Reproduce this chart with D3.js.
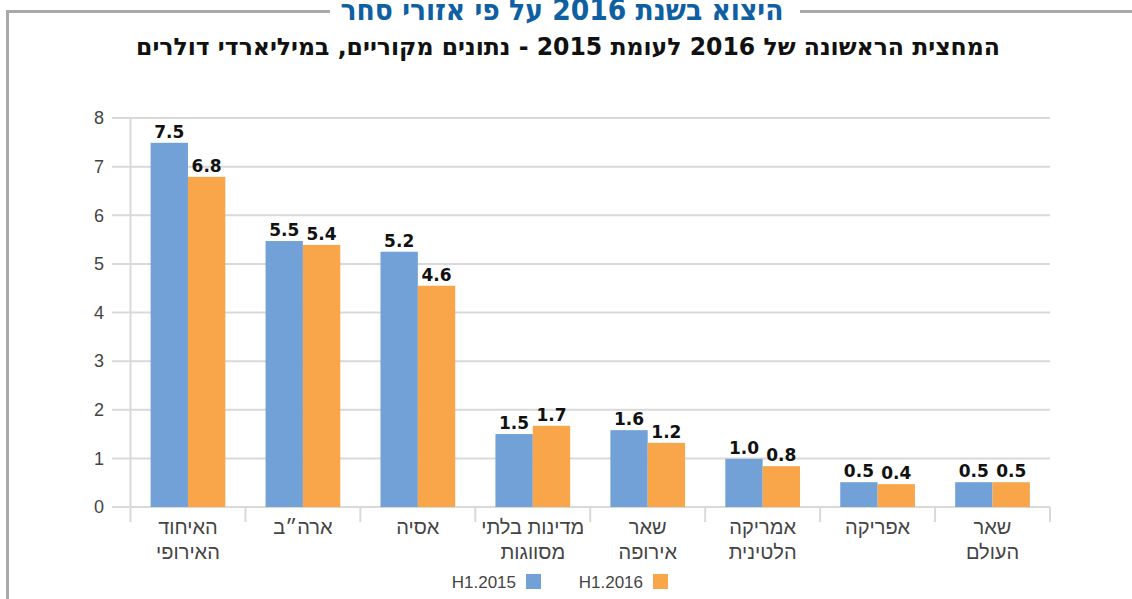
<!DOCTYPE html>
<html>
<head>
<meta charset="utf-8">
<script src="https://cdn.jsdelivr.net/npm/d3@7"></script>
<style>
  body { margin: 0; background: #fff; }
  svg { display: block; }
</style>
</head>
<body>
<div id="chart"></div>
<script>
// chart data
const categories = ["האיחוד האירופי", "ארה\"ב", "אסיה", "מדינות בלתי מסווגות", "שאר אירופה", "אמריקה הלטינית", "אפריקה", "שאר העולם"];
const categoryLines = [["האיחוד", "האירופי"], ["ארה״ב"], ["אסיה"], ["מדינות בלתי", "מסווגות"], ["שאר", "אירופה"], ["אמריקה", "הלטינית"], ["אפריקה"], ["שאר", "העולם"]];
const seriesNames = ["H1.2015", "H1.2016"];
// bar heights
const values2015 = [7.49, 5.47, 5.25, 1.5, 1.58, 0.99, 0.51, 0.51];
const values2016 = [6.79, 5.39, 4.55, 1.67, 1.32, 0.84, 0.47, 0.51];
// printed labels
const labels2015 = ["7.5", "5.5", "5.2", "1.5", "1.6", "1.0", "0.5", "0.5"];
const labels2016 = ["6.8", "5.4", "4.6", "1.7", "1.2", "0.8", "0.4", "0.5"];
const yTicks = [0, 1, 2, 3, 4, 5, 6, 7, 8];

const width = 1132;
const height = 599;
const colors = ["#71a1d7", "#f9a64a"];
const condensed = "'DejaVu Sans Condensed', 'DejaVu Sans', sans-serif";
const light = "'Liberation Sans', Arial, sans-serif";

const svg = d3.select("#chart")
    .append("svg")
    .attr("width", width)
    .attr("height", height);

// frame lines round the title
const frame = svg.append("g").attr("stroke", "#a9a9a9").attr("stroke-width", 3).attr("fill", "none");
frame.append("path").attr("d", "M7.5,599V11.5H330");
frame.append("path").attr("d", "M800,11.5H1132");

svg.append("text")
    .attr("x", 562)
    .attr("y", 20)
    .attr("text-anchor", "middle")
    .attr("direction", "rtl")
    .attr("font-family", condensed)
    .attr("font-weight", "bold")
    .attr("font-size", 30)
    .attr("fill", "#0f5fa3")
    .attr("textLength", 443)
    .attr("lengthAdjust", "spacingAndGlyphs")
    .text("היצוא בשנת 2016 על פי אזורי סחר");

svg.append("text")
    .attr("x", 568)
    .attr("y", 55)
    .attr("text-anchor", "middle")
    .attr("direction", "rtl")
    .attr("font-family", condensed)
    .attr("font-weight", "bold")
    .attr("font-size", 24)
    .attr("fill", "#111")
    .attr("textLength", 864)
    .attr("lengthAdjust", "spacingAndGlyphs")
    .text("המחצית הראשונה של 2016 לעומת 2015 - נתונים מקוריים, במיליארדי דולרים");

// scales
const x = d3.scaleBand()
    .domain(categories)
    .range([130.5, 1050])
    .paddingInner(0.35)
    .paddingOuter(0.175);

const xSub = d3.scaleBand()
    .domain(seriesNames)
    .range([0, x.bandwidth()]);

const y = d3.scaleLinear()
    .domain([0, 8])
    .range([507, 118]);

// gridlines
svg.append("g")
    .selectAll("line")
    .data(yTicks)
    .join("line")
    .attr("x1", 112)
    .attr("x2", 1050)
    .attr("y1", d => y(d))
    .attr("y2", d => y(d))
    .attr("stroke", "#d9d9d9")
    .attr("stroke-width", 2);

// y tick labels
svg.append("g")
    .selectAll("text")
    .data(yTicks)
    .join("text")
    .attr("x", 104)
    .attr("y", d => y(d))
    .attr("dy", "0.35em")
    .attr("text-anchor", "end")
    .attr("font-family", light)
    .attr("font-size", 18)
    .attr("fill", "#444")
    .text(d => d);

// vertical axis and category ticks
const step = x.step();
const bounds = d3.range(categories.length + 1).map(i => 130.5 + i * step);
svg.append("line")
    .attr("x1", 130.5).attr("x2", 130.5)
    .attr("y1", y(8)).attr("y2", 522)
    .attr("stroke", "#d9d9d9").attr("stroke-width", 2);
svg.append("g")
    .selectAll("line")
    .data(bounds.slice(1))
    .join("line")
    .attr("x1", d => d).attr("x2", d => d)
    .attr("y1", y(0)).attr("y2", 522)
    .attr("stroke", "#d9d9d9").attr("stroke-width", 2);

// bars
const rows = categories.map((c, i) => ({
    cat: c,
    vals: [values2015[i], values2016[i]],
    labs: [labels2015[i], labels2016[i]]
}));

const group = svg.append("g")
    .selectAll("g")
    .data(rows)
    .join("g")
    .attr("transform", d => `translate(${x(d.cat)},0)`);

group.selectAll("rect")
    .data(d => d.vals.map((v, j) => ({ v, s: seriesNames[j], j })))
    .join("rect")
    .attr("x", d => xSub(d.s))
    .attr("width", xSub.bandwidth())
    .attr("y", d => y(d.v))
    .attr("height", d => y(0) - y(d.v))
    .attr("fill", d => colors[d.j]);

group.selectAll("text.val")
    .data(d => d.vals.map((v, j) => ({ v, s: seriesNames[j], lab: d.labs[j] })))
    .join("text")
    .attr("class", "val")
    .attr("x", d => xSub(d.s) + xSub.bandwidth() / 2)
    .attr("y", d => y(d.v) - 5)
    .attr("text-anchor", "middle")
    .attr("font-family", "'DejaVu Sans', sans-serif")
    .attr("font-weight", "bold")
    .attr("font-size", 17)
    .attr("fill", "#111")
    .text(d => d.lab);

// category labels
svg.append("g")
    .selectAll("text")
    .data(categories)
    .join("text")
    .attr("x", d => x(d) + x.bandwidth() / 2)
    .attr("y", 534)
    .attr("text-anchor", "middle")
    .attr("direction", "rtl")
    .attr("font-family", light)
    .attr("font-size", 20)
    .attr("fill", "#444")
    .each(function(d, i) {
        d3.select(this).selectAll("tspan")
            .data(categoryLines[i])
            .join("tspan")
            .attr("x", x(d) + x.bandwidth() / 2)
            .attr("dy", (t, k) => k === 0 ? 0 : 25)
            .text(t => t);
    });

// legend
const legend = svg.append("g")
    .selectAll("g")
    .data(seriesNames)
    .join("g")
    .attr("transform", (d, i) => `translate(${526 + i * 127},574)`);

legend.append("rect")
    .attr("width", 15)
    .attr("height", 15)
    .attr("fill", (d, i) => colors[i]);

legend.append("text")
    .attr("x", -10)
    .attr("y", 8)
    .attr("dy", "0.35em")
    .attr("text-anchor", "end")
    .attr("font-family", light)
    .attr("font-size", 17)
    .attr("fill", "#444")
    .text(d => d);
</script>
</body>
</html>
